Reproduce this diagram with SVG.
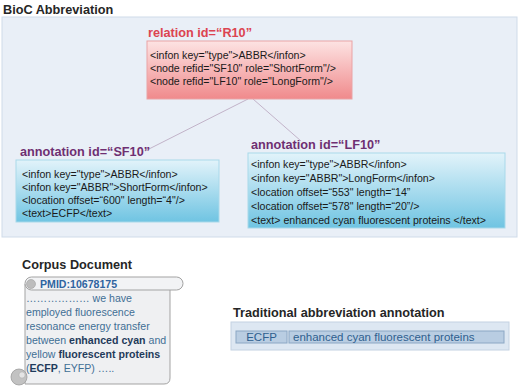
<svg xmlns="http://www.w3.org/2000/svg" width="520" height="388" viewBox="0 0 520 388">
<defs>
<linearGradient id="gRed" x1="0" y1="0" x2="0" y2="1">
<stop offset="0" stop-color="#fde3e3"/>
<stop offset="1" stop-color="#f08a8c"/>
</linearGradient>
<linearGradient id="gBlue" x1="0" y1="0" x2="0" y2="1">
<stop offset="0" stop-color="#e2f3fa"/>
<stop offset="1" stop-color="#6fc4e2"/>
</linearGradient>
<style>
text{font-family:"Liberation Sans",Arial,sans-serif}
.h{font-size:12.7px;font-weight:bold;fill:#262626}
.rt{font-size:12.7px;font-weight:bold;fill:#dc4450}
.pt{font-size:12.7px;font-weight:bold;fill:#6f2f72}
.bt{font-size:10.6px;fill:#1a1a1a}
.st{font-size:10.6px;fill:#3f6f95}
.sb{font-weight:bold;fill:#1f3b5b}
.conn{stroke:#c2b3c9;stroke-width:1;fill:none}
</style>
</defs>
<text class="h" x="3" y="14">BioC Abbreviation</text>
<rect x="2" y="17" width="515" height="220" fill="#e9eff7" stroke="#cfdbe9" stroke-width="1"/>
<g id="connectors">
<line class="conn" x1="248" y1="99" x2="145" y2="151"/>
<line class="conn" x1="253" y1="99" x2="301" y2="141"/>
</g>
<g id="R10">
<text class="rt" x="148" y="37">relation id=“R10”</text>
<rect x="147" y="41" width="205" height="58" fill="url(#gRed)" stroke="#eaa3a5" stroke-width="1"/>
<text class="bt" x="150" y="59">&lt;infon key="type"&gt;ABBR&lt;/infon&gt;</text>
<text class="bt" x="150" y="72">&lt;node refid="SF10" role="ShortForm"/&gt;</text>
<text class="bt" x="150" y="85">&lt;node refid="LF10" role="LongForm"/&gt;</text>
</g>
<g id="SF10">
<text class="pt" x="20" y="156">annotation id=“SF10”</text>
<rect x="16" y="160" width="203" height="62" fill="url(#gBlue)" stroke="#a9d9ea" stroke-width="1"/>
<text class="bt" x="22" y="178">&lt;infon key="type"&gt;ABBR&lt;/infon&gt;</text>
<text class="bt" x="22" y="191">&lt;infon key="ABBR"&gt;ShortForm&lt;/infon&gt;</text>
<text class="bt" x="22" y="204">&lt;location offset=“600" length=“4"/&gt;</text>
<text class="bt" x="22" y="217">&lt;text&gt;ECFP&lt;/text&gt;</text>
</g>
<g id="LF10">
<text class="pt" x="251" y="149">annotation id=“LF10”</text>
<rect x="248" y="153" width="257" height="75" fill="url(#gBlue)" stroke="#a9d9ea" stroke-width="1"/>
<text class="bt" x="251" y="168">&lt;infon key="type"&gt;ABBR&lt;/infon&gt;</text>
<text class="bt" x="251" y="182">&lt;infon key="ABBR"&gt;LongForm&lt;/infon&gt;</text>
<text class="bt" x="251" y="196">&lt;location offset=“553" length=“14”</text>
<text class="bt" x="251" y="210">&lt;location offset=“578" length=“20”/&gt;</text>
<text class="bt" x="251" y="224">&lt;text&gt; enhanced cyan fluorescent proteins &lt;/text&gt;</text>
</g>
<g id="corpus">
<text class="h" x="22" y="269">Corpus Document</text>
<path d="M25,284 H170 V378 Q170,384 164,384 H25 Z" fill="#eff0f2" stroke="#a3a3a3" stroke-width="1"/>
<rect x="25" y="277" width="158" height="13" rx="6.5" fill="#f2f3f5" stroke="#a3a3a3" stroke-width="1"/>
<circle cx="31" cy="284" r="4.5" fill="#bdbdbd" stroke="#a0a0a0" stroke-width="0.6"/>
<circle cx="19" cy="377" r="8" fill="#c2c2c2" stroke="#9c9c9c" stroke-width="0.8"/>
<circle cx="22" cy="375" r="3.2" fill="#e4e4e4" stroke="#a8a8a8" stroke-width="0.6"/>
<text x="40" y="288" style="font-size:10.6px;font-weight:bold;fill:#2f64a0">PMID:10678175</text>
<text class="st" x="26" y="302">……………… we have</text>
<text class="st" x="26" y="316">employed fluorescence</text>
<text class="st" x="26" y="330">resonance energy transfer</text>
<text class="st" x="26" y="344">between <tspan class="sb">enhanced cyan</tspan> and</text>
<text class="st" x="26" y="358">yellow <tspan class="sb">fluorescent proteins</tspan></text>
<text class="st" x="26" y="372">(<tspan class="sb">ECFP</tspan>, EYFP) …..</text>
</g>
<g id="traditional">
<text class="h" x="233" y="317">Traditional abbreviation annotation</text>
<rect x="231" y="322" width="278" height="28" fill="#dde7f2" stroke="#c4d2e2" stroke-width="1"/>
<rect x="236" y="331" width="51" height="12" fill="#b9cde2" stroke="#8ca7c4" stroke-width="1"/>
<rect x="289" y="331" width="215" height="12" fill="#b9cde2" stroke="#8ca7c4" stroke-width="1"/>
<text x="261.5" y="341" text-anchor="middle" style="font-size:11.5px;fill:#2f5f8f">ECFP</text>
<text x="293" y="341" style="font-size:11.5px;fill:#2f5f8f">enhanced cyan fluorescent proteins</text>
</g>
</svg>
